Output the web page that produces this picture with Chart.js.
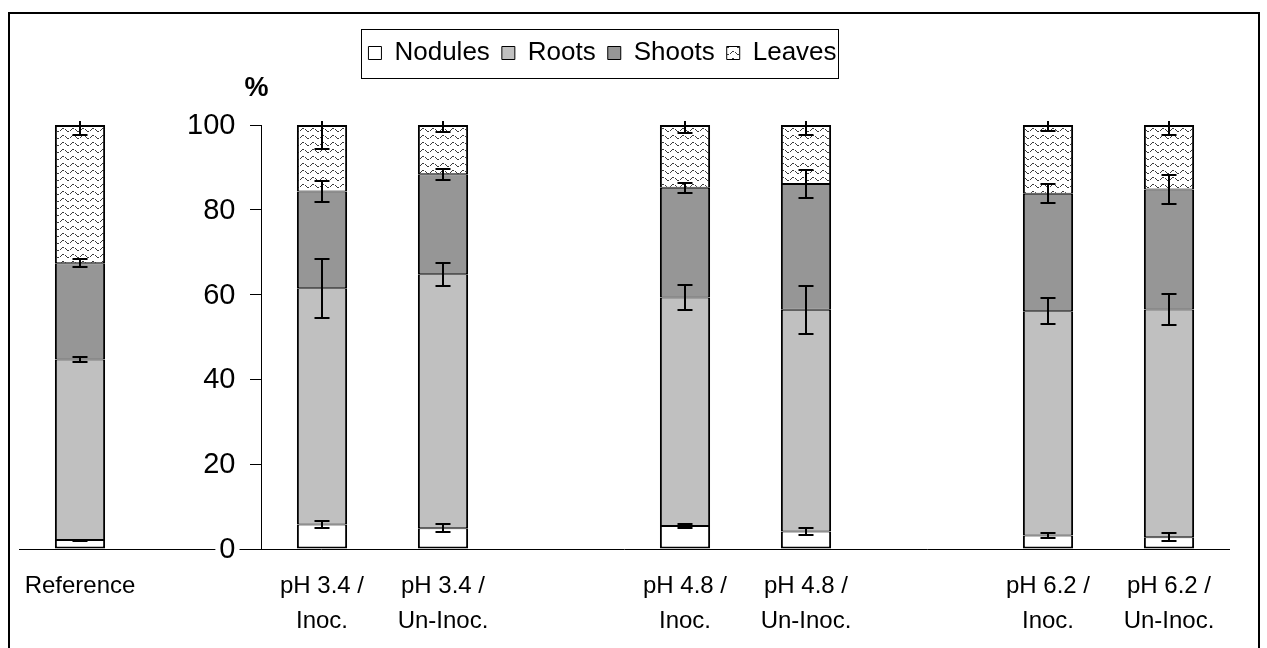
<!DOCTYPE html>
<html>
<head>
<meta charset="utf-8">
<script src="https://cdn.jsdelivr.net/npm/chart.js@4.4.1/dist/chart.umd.min.js"></script>
<style>
  html, body { margin: 0; padding: 0; background: #fff; }
  #wrap { width: 1267px; height: 648px; }
</style>
</head>
<body>
<div id="wrap"><canvas id="chart" width="1267" height="648"></canvas></div>
<script>
// Treatment groups (empty slots separate the pH groups)
const categories = [
  ['Reference'], [''],
  ['pH 3.4 /', 'Inoc.'], ['pH 3.4 /', 'Un-Inoc.'], [''],
  ['pH 4.8 /', 'Inoc.'], ['pH 4.8 /', 'Un-Inoc.'], [''],
  ['pH 6.2 /', 'Inoc.'], ['pH 6.2 /', 'Un-Inoc.']
];

// Share of each plant part (%)
const nodules = [2.1, null, 5.8, 4.9, null, 5.4, 4.1, null, 3.2, 2.8];
const roots   = [42.6, null, 55.7, 59.9, null, 53.9, 52.3, null, 52.9, 53.7];
const shoots  = [22.7, null, 22.8, 23.6, null, 25.9, 29.7, null, 27.7, 28.3];
const leaves  = [32.6, null, 15.7, 11.6, null, 14.8, 13.9, null, 16.2, 15.2];

// Standard errors, drawn at the top of each stacked segment
const nodulesErr = [0.1, null, 0.9, 0.9, null, 0.4, 0.9, null, 0.6, 0.9];
const rootsErr   = [0.7, null, 7.0, 2.7, null, 3.0, 5.7, null, 3.1, 3.6];
const shootsErr  = [1.0, null, 2.5, 1.3, null, 1.2, 3.2, null, 2.3, 3.5];
const leavesErr  = [2.4, null, 5.7, 1.7, null, 2.0, 2.4, null, 1.3, 2.3];

const yTicks = [0, 20, 40, 60, 80, 100];

const FONT = "'Liberation Sans', Arial, Helvetica, sans-serif";

// Wavy dotted fill used for the leaves segment
function wavePattern() {
  const c = document.createElement('canvas');
  c.width = 10; c.height = 7;
  const g = c.getContext('2d');
  g.fillStyle = '#fff';
  g.fillRect(0, 0, 10, 7);
  g.fillStyle = '#3c3c3c';
  const wave = [4, 3, 2, 2, 3, 3, 4, 5, 5, 4];
  for (let x = 0; x < 10; x++) {
    if (x === 4 || x === 9) continue;
    g.fillRect(x, wave[x], 1, 1);
  }
  return g.createPattern(c, 'repeat');
}

// Error bars on top of each stacked segment
const errorBars = {
  id: 'errorBars',
  afterDatasetsDraw(chart) {
    const { ctx, chartArea } = chart;
    const ys = chart.scales.y;
    ctx.save();
    ctx.beginPath();
    ctx.rect(0, chartArea.top - 4, chart.width, chart.height);
    ctx.clip();
    ctx.strokeStyle = '#000';
    ctx.lineWidth = 2;
    chart.data.datasets.forEach((ds, i) => {
      const meta = chart.getDatasetMeta(i);
      ds.data.forEach((v, j) => {
        if (v == null) return;
        let top = 0;
        for (let k = 0; k <= i; k++) top += chart.data.datasets[k].data[j];
        const e = ds.errors[j];
        const x = Math.round(meta.data[j].x);
        const y1 = Math.round(ys.getPixelForValue(top + e));
        const y2 = Math.round(ys.getPixelForValue(top - e));
        ctx.beginPath();
        ctx.moveTo(x, y1); ctx.lineTo(x, y2);
        ctx.moveTo(x - 7.5, y1); ctx.lineTo(x + 7.5, y1);
        ctx.moveTo(x - 7.5, y2); ctx.lineTo(x + 7.5, y2);
        ctx.stroke();
      });
    });
    ctx.restore();
  }
};

// Legend sizing, outer frame, legend frame, value-axis labels and "%" unit
const decorations = {
  id: 'decorations',
  beforeInit(chart) {
    const legend = chart.legend;
    if (legend && !legend._fixedFit) {
      const fit = legend.fit;
      legend.fit = function () {
        fit.call(this);
        this.height = 97;
      };
      legend._fixedFit = true;
    }
  },
  afterLayout(chart) {
    const legend = chart.legend;
    legend.left -= 22;
    legend.right -= 22;
  },
  afterDraw(chart) {
    const { ctx } = chart;
    const ys = chart.scales.y, xs = chart.scales.x;
    const axisX = xs.getPixelForValue(1.5);
    ctx.save();
    // outer frame
    ctx.strokeStyle = '#000';
    ctx.lineWidth = 2;
    ctx.strokeRect(9, 13, 1250, 660);
    // legend frame
    const boxes = chart.legend.legendHitBoxes;
    if (boxes && boxes.length) {
      const l = Math.min(...boxes.map(b => b.left));
      const r = Math.max(...boxes.map(b => b.left + b.width));
      const cy = boxes[0].top + boxes[0].height / 2;
      ctx.lineWidth = 1;
      ctx.strokeRect(Math.round(l - 7) + 0.5, Math.round(cy - 24) + 0.5, Math.round(r - l + 9), 49);
    }
    // value-axis tick labels, left of the tick marks
    ctx.font = '29px ' + FONT;
    ctx.textAlign = 'right';
    ctx.textBaseline = 'middle';
    ys.ticks.forEach(t => {
      const label = String(t.value);
      const y = ys.getPixelForValue(t.value);
      const w = ctx.measureText(label).width;
      const x = axisX - 26;
      ctx.fillStyle = '#fff';
      ctx.fillRect(x - w - 4, y - 15, w + 8, 30);
      ctx.fillStyle = '#000';
      ctx.fillText(label, x, y + 1);
    });
    // unit label above the value axis
    ctx.font = 'bold 27px ' + FONT;
    ctx.textAlign = 'center';
    ctx.fillText('%', axisX - 5, ys.getPixelForValue(100) - 36);
    ctx.restore();
  }
};

const leafFill = wavePattern();

// Segment outlines: inner joins add up to 2px, outer top/bottom edges are 2px
const edge = (top, bottom) => ({ left: 2, right: 2, top, bottom });

new Chart(document.getElementById('chart'), {
  type: 'bar',
  data: {
    labels: categories,
    datasets: [
      { label: 'Nodules', data: nodules, errors: nodulesErr, backgroundColor: '#ffffff', borderWidth: edge(1, 2) },
      { label: 'Roots',   data: roots,   errors: rootsErr,   backgroundColor: '#c0c0c0', borderWidth: edge(1, 1) },
      { label: 'Shoots',  data: shoots,  errors: shootsErr,  backgroundColor: '#969696', borderWidth: edge(1, 1) },
      { label: 'Leaves',  data: leaves,  errors: leavesErr,  backgroundColor: leafFill,  borderWidth: edge(2, 1) }
    ].map(d => Object.assign(d, {
      borderColor: '#000',
      borderSkipped: false,
      inflateAmount: 0,
      categoryPercentage: 1,
      barPercentage: 0.415
    }))
  },
  options: {
    responsive: false,
    animation: false,
    devicePixelRatio: 1,
    layout: { padding: { top: 28, left: 19.5, right: 37.5, bottom: 0 } },
    plugins: {
      tooltip: { enabled: false },
      legend: {
        position: 'top',
        align: 'center',
        labels: {
          color: '#000',
          font: { family: FONT, size: 26 },
          boxWidth: 13,
          boxHeight: 13,
          padding: 12,
          generateLabels(chart) {
            const items = Chart.defaults.plugins.legend.labels.generateLabels(chart);
            items.forEach(it => { it.lineWidth = 1; it.strokeStyle = '#000'; });
            return items;
          }
        }
      }
    },
    scales: {
      x: {
        stacked: true,
        offset: true,
        afterFit(scale) { scale.height = 99; },
        grid: { display: false, drawTicks: false },
        border: { display: true, color: '#000', width: 1 },
        ticks: {
          color: '#000',
          font: { family: FONT, size: 24, lineHeight: 1.45 },
          padding: 20,
          maxRotation: 0,
          autoSkip: false
        }
      },
      y: {
        stacked: true,
        min: 0,
        max: 100,
        position: { x: 1.5 },
        afterBuildTicks(scale) { scale.ticks = yTicks.map(v => ({ value: v })); },
        grid: { drawOnChartArea: false, drawTicks: true, tickLength: 11, color: '#000' },
        border: { display: true, color: '#000', width: 1 },
        ticks: { display: false }
      }
    }
  },
  plugins: [errorBars, decorations]
});
</script>
</body>
</html>
